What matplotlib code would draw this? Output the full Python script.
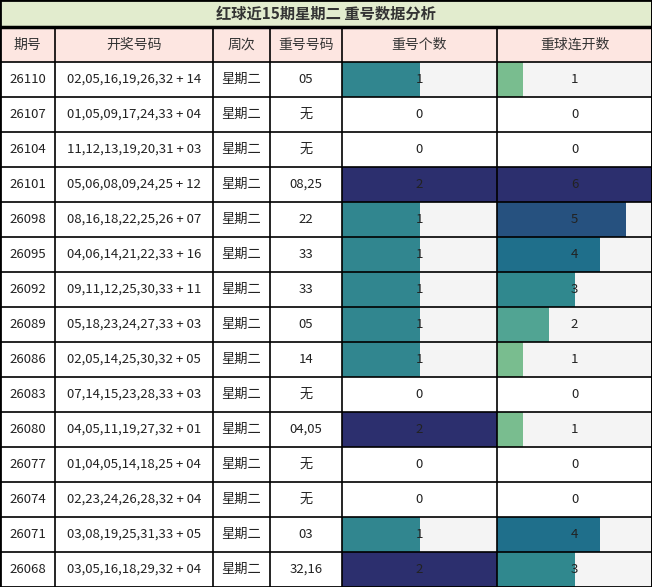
import matplotlib
matplotlib.use("Agg")
import matplotlib.pyplot as plt
from matplotlib.patches import Rectangle

plt.rcParams['font.family'] = ['Noto Sans CJK SC', 'DejaVu Sans']

title = "红球近15期星期二 重号数据分析"
headers = ["期号", "开奖号码", "周次", "重号号码", "重号个数", "重球连开数"]
issues = ["26110","26107","26104","26101","26098","26095","26092","26089","26086","26083","26080","26077","26074","26071","26068"]
draws = ["02,05,16,19,26,32 + 14","01,05,09,17,24,33 + 04","11,12,13,19,20,31 + 03","05,06,08,09,24,25 + 12",
         "08,16,18,22,25,26 + 07","04,06,14,21,22,33 + 16","09,11,12,25,30,33 + 11","05,18,23,24,27,33 + 03",
         "02,05,14,25,30,32 + 05","07,14,15,23,28,33 + 03","04,05,11,19,27,32 + 01","01,04,05,14,18,25 + 04",
         "02,23,24,26,28,32 + 04","03,08,19,25,31,33 + 05","03,05,16,18,29,32 + 04"]
weekday = ["星期二"] * 15
repeats = ["05","无","无","08,25","22","33","33","05","14","无","04,05","无","无","03","32,16"]
repeat_count = [1,0,0,2,1,1,1,1,1,0,2,0,0,1,2]
streak = [1,0,0,6,5,4,3,2,1,0,1,0,0,4,3]

cnt_colors = {1: "#31868f", 2: "#2c2f6e"}
streak_colors = {1: "#79bd8f", 2: "#51a493", 3: "#30888e", 4: "#1f6f8b", 5: "#26517f", 6: "#2c2f6e"}

W, H = 652, 587
fig = plt.figure(figsize=(W/100, H/100), dpi=100)
ax = fig.add_axes([0, 0, 1, 1])
ax.set_xlim(0, W); ax.set_ylim(H, 0); ax.axis('off')

xs = [0, 55, 213, 270, 342, 497, 652]
title_h, head_h = 27, 35
y0 = title_h + head_h
rh = (H - y0) / 15

ax.add_patch(Rectangle((0, 0), W, title_h, fc="#e2ecce", ec="none"))
ax.text(W/2, title_h/2, title, ha='center', va='center', fontsize=11, fontweight='bold', color="#333333")
ax.add_patch(Rectangle((0, title_h), W, head_h, fc="#fde6e1", ec="none"))
for i, h in enumerate(headers):
    ax.text((xs[i]+xs[i+1])/2, title_h+head_h/2, h, ha='center', va='center', fontsize=10, color="#333333")

for r in range(15):
    y = y0 + r*rh
    cy = y + rh/2
    for i, v in enumerate([issues[r], draws[r], weekday[r], repeats[r]]):
        ax.text((xs[i]+xs[i+1])/2, cy, v, ha='center', va='center', fontsize=9.5, color="#222222")
    for ci, (val, mx, cmap) in enumerate([(repeat_count[r], 2, cnt_colors), (streak[r], 6, streak_colors)]):
        x1, x2 = xs[4+ci], xs[5+ci]
        if val > 0:
            ax.add_patch(Rectangle((x1, y), x2-x1, rh, fc="#f4f4f4", ec="none"))
            ax.add_patch(Rectangle((x1, y), (x2-x1)*val/mx, rh, fc=cmap[val], ec="none"))
        ax.text((x1+x2)/2, cy, str(val), ha='center', va='center', fontsize=9.5, color="#222222")

lw = 1.2
for x in xs:
    ax.plot([x, x], [title_h if x not in (0, W) else 0, H], color='black', lw=lw)
ax.plot([0, 0], [0, H], color='black', lw=2)
ax.plot([W, W], [0, H], color='black', lw=2)
ax.plot([0, W], [0, 0], color='black', lw=2)
ax.plot([0, W], [title_h, title_h], color='black', lw=2.5)
ax.plot([0, W], [y0, y0], color='black', lw=lw)
for r in range(1, 16):
    ax.plot([0, W], [y0 + r*rh]*2, color='black', lw=lw if r < 15 else 2)

fig.savefig("out.png", dpi=100)
